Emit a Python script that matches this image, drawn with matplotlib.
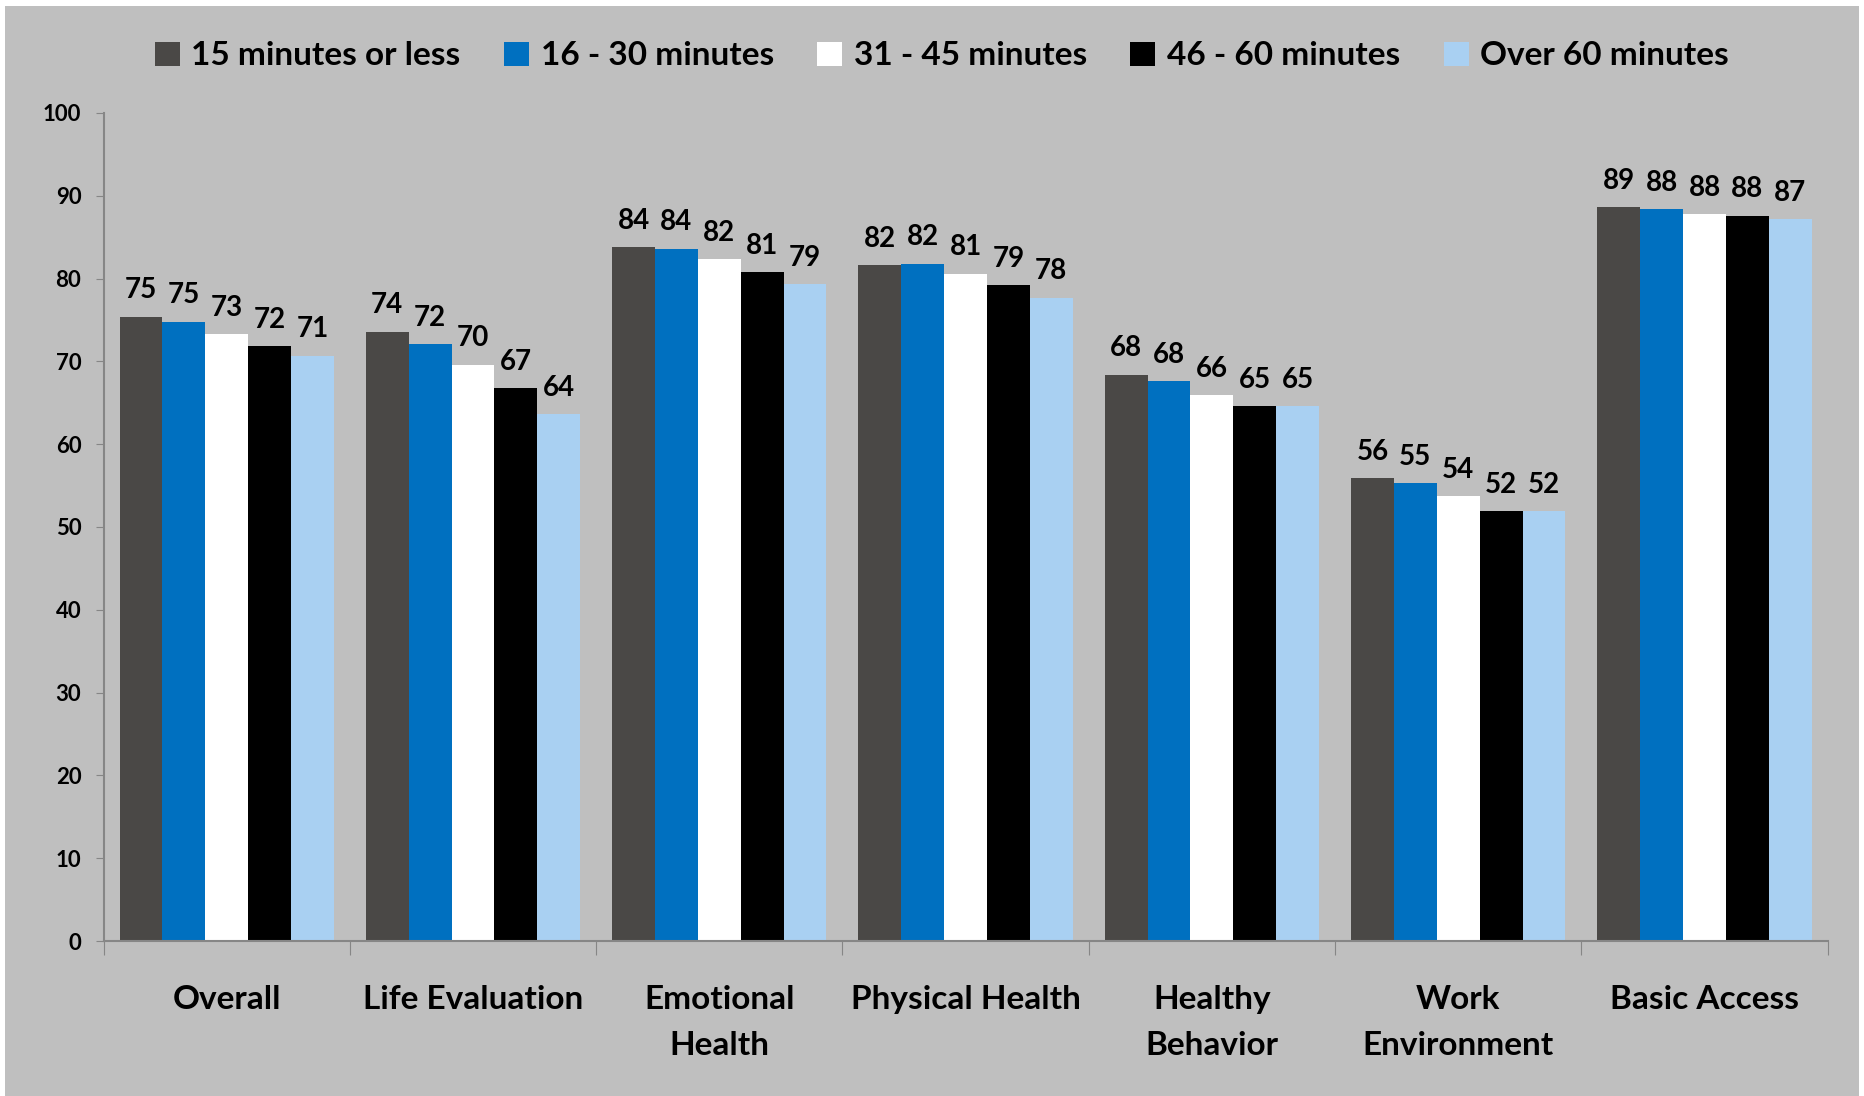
import numpy as np
import matplotlib.pyplot as plt
from matplotlib.patches import Rectangle, Patch

categories = ["Overall", "Life Evaluation", "Emotional\nHealth", "Physical Health",
              "Healthy\nBehavior", "Work\nEnvironment", "Basic Access"]
series = ["15 minutes or less", "16 - 30 minutes", "31 - 45 minutes",
          "46 - 60 minutes", "Over 60 minutes"]
values = [
    [75.4, 73.6, 83.8, 81.6, 68.4, 55.9, 88.6],
    [74.8, 72.1, 83.6, 81.8, 67.6, 55.3, 88.4],
    [73.3, 69.6, 82.3, 80.6, 65.9, 53.7, 87.8],
    [71.8, 66.8, 80.8, 79.2, 64.6, 51.9, 87.6],
    [70.7, 63.6, 79.3, 77.7, 64.6, 51.9, 87.2],
]
colors = ["#4a4846", "#0070c0", "#ffffff", "#000000", "#a9d0f2"]
bg = "#bfbfbf"

plt.rcParams['font.family'] = ['Lato', 'DejaVu Sans']
plt.rcParams['font.weight'] = 'bold'

fig = plt.figure(figsize=(18.65, 10.96), dpi=100, facecolor="white")
# grey panel with a thin white margin at the top and sides
fig.patches.append(Rectangle((5 / 1865, 0), 1854 / 1865, 1 - 6 / 1096,
                             transform=fig.transFigure, facecolor=bg,
                             edgecolor="none", zorder=-1))
ax = fig.add_axes([0.0555, 0.1414, 0.9245, 0.7556])
ax.set_facecolor(bg)

x = np.arange(len(categories))
w = 0.174
for i, (name, vals, c) in enumerate(zip(series, values, colors)):
    pos = x + (i - 2) * w
    ax.bar(pos, vals, width=w, color=c, label=name, edgecolor="none")
    for px, v in zip(pos, vals):
        ax.text(px, v + 1.6, "%.0f" % v, ha="center", va="bottom",
                fontsize=20, fontweight="bold")

ax.set_xlim(-0.5, len(categories) - 0.5)
ax.set_ylim(0, 100)
ax.set_yticks(np.arange(0, 101, 10))
ax.tick_params(axis="y", length=6, color="#868686", labelsize=16, pad=10)

# ticks between groups, labels centred under each group
ax.set_xticks(np.arange(-0.5, len(categories), 1))
ax.set_xticklabels([])
ax.tick_params(axis="x", which="major", length=10, color="#868686")
ax.set_xticks(x, minor=True)
ax.set_xticklabels(categories, minor=True, fontsize=24, fontweight="bold",
                   linespacing=1.7)
ax.tick_params(axis="x", which="minor", length=0, pad=32)

for s in ["top", "right"]:
    ax.spines[s].set_visible(False)
for s in ["left", "bottom"]:
    ax.spines[s].set_color("#868686")
    ax.spines[s].set_linewidth(1.5)

handles = [Patch(facecolor=c, edgecolor="none") for c in colors]
fig.legend(handles, series, loc="center", bbox_to_anchor=(0.505, 0.949),
           ncol=5, frameon=False, handlelength=0.75,
           handleheight=0.75, handletextpad=0.35, columnspacing=1.3,
           prop={"weight": "bold", "size": 24})

plt.savefig("out.png", dpi=100, facecolor=fig.get_facecolor())
